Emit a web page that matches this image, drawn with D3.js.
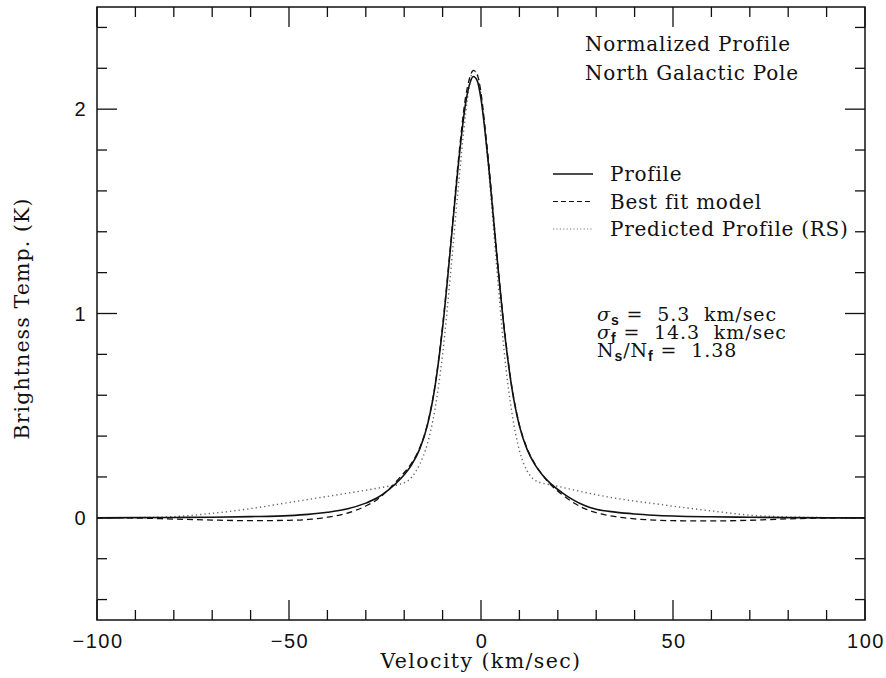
<!DOCTYPE html>
<html>
<head>
<meta charset="utf-8">
<script src="https://cdn.jsdelivr.net/npm/d3@7"></script>
<style>
  html, body { margin: 0; padding: 0; background: #fff; }
  svg { display: block; }
  .serif { font-family: "DejaVu Serif", serif; fill: #111; }
  .num { font-family: "Liberation Sans", Arial, sans-serif; fill: #111; letter-spacing: 1.5px; }
</style>
</head>
<body>
<svg id="chart" width="886" height="678"></svg>
<script>
// Velocity grid (km/sec)
const velocity = [-100, -90, -80, -70, -60, -50, -45, -40, -35, -30, -27, -24, -21, -18, -16, -14, -12, -10, -8, -6, -4, -3, -2, -1, 0, 1, 2, 4, 6, 8, 10, 12, 14, 16, 18, 21, 24, 27, 30, 35, 40, 45, 50, 60, 70, 80, 90, 100];

// Observed normalized profile (K)
const profile = [0, 0.001, 0.002, 0.003, 0.006, 0.011, 0.017, 0.027, 0.043, 0.072, 0.098, 0.138, 0.19, 0.262, 0.335, 0.45, 0.64, 0.93, 1.31, 1.71, 2.03, 2.12, 2.16, 2.14, 2.05, 1.9, 1.72, 1.31, 0.93, 0.64, 0.45, 0.335, 0.262, 0.21, 0.17, 0.125, 0.088, 0.06, 0.042, 0.028, 0.019, 0.013, 0.009, 0.005, 0.003, 0.001, 0, 0];

// Two-component best fit model (K)
const bestFit = [0, -0.001, -0.006, -0.011, -0.014, -0.012, -0.008, 0.003, 0.022, 0.058, 0.09, 0.14, 0.2, 0.27, 0.34, 0.455, 0.645, 0.94, 1.32, 1.73, 2.06, 2.15, 2.19, 2.17, 2.08, 1.92, 1.74, 1.32, 0.94, 0.645, 0.455, 0.34, 0.265, 0.21, 0.165, 0.115, 0.075, 0.045, 0.025, 0.006, -0.005, -0.011, -0.014, -0.015, -0.012, -0.005, -0.001, 0];

// Predicted profile (RS)
const predicted = [0, 0.001, 0.006, 0.022, 0.045, 0.075, 0.09, 0.105, 0.12, 0.135, 0.145, 0.155, 0.165, 0.2, 0.26, 0.36, 0.53, 0.8, 1.18, 1.6, 1.98, 2.12, 2.19, 2.17, 2.07, 1.9, 1.7, 1.25, 0.82, 0.52, 0.33, 0.23, 0.185, 0.17, 0.162, 0.15, 0.137, 0.125, 0.113, 0.096, 0.082, 0.07, 0.057, 0.034, 0.013, 0.004, 0.001, 0];

const xMajorTicks = [-100, -50, 0, 50, 100];
const yMajorTicks = [0, 1, 2];
const xTickLabels = ["\u2212100", "\u221250", "0", "50", "100"];
const yTickLabels = ["0", "1", "2"];

const svg = d3.select("#chart");
const plotLeft = 97, plotRight = 865, plotTop = 7, plotBottom = 620;

const x = d3.scaleLinear().domain([-100, 100]).range([plotLeft, plotRight]);
const y = d3.scaleLinear().domain([-0.5, 2.5]).range([plotBottom, plotTop]);

const xMinor = d3.range(-100, 100.001, 10);
const yMinor = d3.range(-0.4, 2.4001, 0.2).map(v => Math.round(v * 10) / 10);
const isMajorX = v => xMajorTicks.includes(v);
const isMajorY = v => yMajorTicks.some(m => Math.abs(m - v) < 1e-6);

const axisG = svg.append("g").attr("stroke", "#111").attr("stroke-width", 1.3).attr("fill", "none");

// Frame
axisG.append("rect").attr("x", plotLeft).attr("y", plotTop)
  .attr("width", plotRight - plotLeft).attr("height", plotBottom - plotTop).attr("stroke-width", 1.5);

// Inward ticks on all four sides
xMinor.forEach(v => {
  const len = isMajorX(v) ? 20 : 10;
  axisG.append("line").attr("x1", x(v)).attr("x2", x(v)).attr("y1", plotBottom).attr("y2", plotBottom - len);
  axisG.append("line").attr("x1", x(v)).attr("x2", x(v)).attr("y1", plotTop).attr("y2", plotTop + len);
});
yMinor.forEach(v => {
  const len = isMajorY(v) ? 20 : 10;
  axisG.append("line").attr("y1", y(v)).attr("y2", y(v)).attr("x1", plotLeft).attr("x2", plotLeft + len);
  axisG.append("line").attr("y1", y(v)).attr("y2", y(v)).attr("x1", plotRight).attr("x2", plotRight - len);
});

// Tick labels
svg.append("g").selectAll("text").data(xMajorTicks).join("text")
  .attr("class", "num")
  .attr("x", d => x(d) + 1).attr("y", plotBottom + 28)
  .attr("text-anchor", "middle").attr("font-size", 20)
  .text((d, i) => xTickLabels[i]);

svg.append("g").selectAll("text").data(yMajorTicks).join("text")
  .attr("class", "num")
  .attr("x", plotLeft - 10).attr("y", d => y(d) + 7)
  .attr("text-anchor", "end").attr("font-size", 20)
  .text((d, i) => yTickLabels[i]);

// Axis titles
svg.append("text").attr("class", "serif")
  .attr("x", x(0)).attr("y", 668)
  .attr("text-anchor", "middle").attr("font-size", 20.5).attr("letter-spacing", 1.4)
  .text("Velocity (km/sec)");

svg.append("text").attr("class", "serif")
  .attr("transform", `translate(29,${(plotTop + plotBottom) / 2 + 5}) rotate(-90)`)
  .attr("text-anchor", "middle").attr("font-size", 20.5).attr("letter-spacing", 1.1)
  .text("Brightness Temp. (K)");

// Curves
const rows = velocity.map((v, i) => ({ v, p: profile[i], b: bestFit[i], r: predicted[i] }));
const line = key => d3.line().x(d => x(d.v)).y(d => y(d[key])).curve(d3.curveMonotoneX)(rows);

const plot = svg.append("g").attr("fill", "none");
plot.append("path").attr("d", line("r")).attr("stroke", "#666").attr("stroke-width", 1.4).attr("stroke-dasharray", "1.3 3");
plot.append("path").attr("d", line("b")).attr("stroke", "#111").attr("stroke-width", 1.3).attr("stroke-dasharray", "6 4");
plot.append("path").attr("d", line("p")).attr("stroke", "#111").attr("stroke-width", 1.6);

// Title block
const title = svg.append("g").attr("class", "serif").attr("font-size", 20).attr("letter-spacing", 0.8);
title.append("text").attr("x", 585).attr("y", 51).text("Normalized Profile");
title.append("text").attr("x", 585).attr("y", 80).text("North Galactic Pole");

// Legend
const legendItems = [
  { label: "Profile", stroke: "#111", dash: null, w: 1.4 },
  { label: "Best fit model", stroke: "#111", dash: "5 3", w: 1.2 },
  { label: "Predicted Profile (RS)", stroke: "#777", dash: "1.2 2.2", w: 1.2 }
];
const legend = svg.append("g");
legendItems.forEach((d, i) => {
  const cy = 174 + i * 27.5;
  legend.append("line").attr("x1", 553).attr("x2", 593).attr("y1", cy).attr("y2", cy)
    .attr("stroke", d.stroke).attr("stroke-width", d.w).attr("stroke-dasharray", d.dash);
  legend.append("text").attr("class", "serif").attr("font-size", 20).attr("letter-spacing", 0.75)
    .attr("x", 610).attr("y", cy + 7).text(d.label);
});

// Fit parameters
const params = svg.append("g").attr("class", "serif").attr("font-size", 19).attr("letter-spacing", 0.9);
const subFont = "Liberation Sans, sans-serif";
const addParam = (yy, sym, sub, rest) => {
  const t = params.append("text").attr("x", 597).attr("y", yy);
  t.append("tspan").attr("font-style", "italic").text(sym);
  t.append("tspan").attr("font-family", subFont).attr("font-weight", "bold")
    .attr("font-size", 14).attr("dy", 4).text(sub);
  t.append("tspan").attr("dy", -4).text(rest);
  return t;
};
addParam(321, "\u03c3", "s", " =\u00a0 5.3\u00a0 km/sec");
addParam(339, "\u03c3", "f", " =\u00a0 14.3\u00a0 km/sec");
const n = params.append("text").attr("x", 597).attr("y", 357);
n.append("tspan").text("N");
n.append("tspan").attr("font-family", subFont).attr("font-weight", "bold").attr("font-size", 14).attr("dy", 4).text("s");
n.append("tspan").attr("dy", -4).text("/N");
n.append("tspan").attr("font-family", subFont).attr("font-weight", "bold").attr("font-size", 14).attr("dy", 4).text("f");
n.append("tspan").attr("dy", -4).text(" =\u00a0 1.38");
</script>
</body>
</html>
